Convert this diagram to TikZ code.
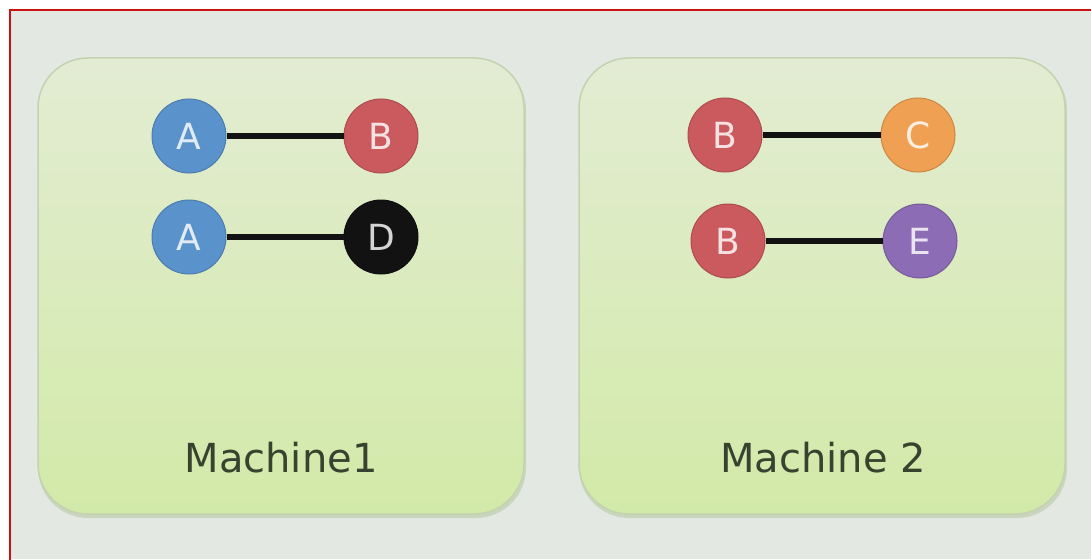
\documentclass[tikz,border=0pt]{standalone}
\usepackage{fontspec}
\setmainfont{DejaVu Sans}
\definecolor{pagebg}{HTML}{E4E8E3}
\definecolor{frame}{HTML}{CC1111}
\definecolor{boxtop}{HTML}{E3ECD3}
\definecolor{boxbot}{HTML}{D2EAA8}
\definecolor{boxedge}{HTML}{C4D2B0}
\definecolor{boxshade}{HTML}{B9C9A4}
\definecolor{labelcol}{HTML}{38432F}
\definecolor{vblue}{HTML}{5A92CB}
\definecolor{vred}{HTML}{CB5A5F}
\definecolor{vblack}{HTML}{121212}
\definecolor{vorange}{HTML}{EFA052}
\definecolor{vpurple}{HTML}{8C6CB4}
\tikzset{
  machine/.style={rounded corners=50pt, minimum width=486pt, minimum height=456pt,
    top color=boxtop, bottom color=boxbot, draw=boxedge, line width=1.5pt, inner sep=0pt},
  machineshadow/.style={rounded corners=50pt, minimum width=488pt, minimum height=458pt,
    fill=boxshade, opacity=0.6, inner sep=0pt},
  mlabel/.style={text=labelcol, font=\fontsize{40}{40}\selectfont},
  vertex/.style={circle, minimum size=74pt, inner sep=0pt, fill=#1, draw=#1!85!black,
    line width=1pt, text=#1!18!white, font=\fontsize{36}{36}\selectfont},
  link/.style={line width=5.5pt, draw=vblack}
}
\begin{document}
\begin{tikzpicture}[x=1pt,y=-1pt]
\useasboundingbox (0,0) rectangle (1091,559);
\fill[white] (0,0) rectangle (1091,559);
\fill[pagebg] (10,10) rectangle (1091,559);
\draw[frame, line width=2pt] (1095,10) -- (10,10) -- (10,565);

% machine panels
\node[machineshadow] (s1) at (282,289) {};
\node[machineshadow] (s2) at (823,289) {};
\node[machine] (m1) at (281,286) {};
\node[machine] (m2) at (822,286) {};
\node[mlabel] (l1) at (281,458) {Machine1};
\node[mlabel] (l2) at (823,458) {Machine 2};

% edges on machine 1
\node[vertex=vblue] (a1) at (189,136) {A};
\node[vertex=vred] (b1) at (381,136) {B};
\node[vertex=vblue] (a2) at (189,237) {A};
\node[vertex=vblack] (d1) at (381,237) {D};

% edges on machine 2
\node[vertex=vred] (b2) at (725,135) {B};
\node[vertex=vorange] (c1) at (918,135) {C};
\node[vertex=vred] (b3) at (728,241) {B};
\node[vertex=vpurple] (e1) at (920,241) {E};

\draw[link] (a1) -- (b1);
\draw[link] (a2) -- (d1);
\draw[link] (b2) -- (c1);
\draw[link] (b3) -- (e1);
\end{tikzpicture}
\end{document}
